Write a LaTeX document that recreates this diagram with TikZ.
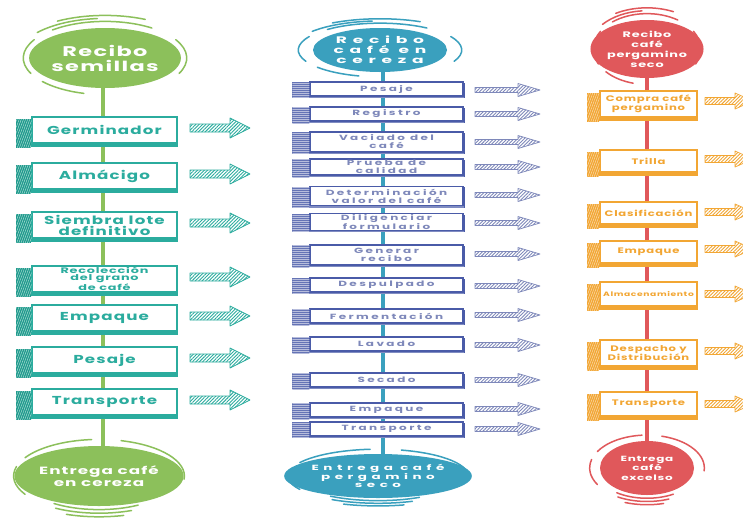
\documentclass[tikz,border=0pt]{standalone}
\usepackage{fontspec}
\usetikzlibrary{shapes.geometric,calc,patterns.meta}
\newfontfamily\fL[FakeStretch=1.45,LetterSpace=10]{Poppins}
\newfontfamily\fC[FakeStretch=1.6,LetterSpace=10]{Poppins}
\newfontfamily\fM[FakeStretch=1.6,LetterSpace=32]{Poppins}
\newfontfamily\fMC[FakeStretch=1.8,LetterSpace=60]{Poppins}
\definecolor{cgreen}{HTML}{8CC05B}
\definecolor{cteal}{HTML}{2BAC9E}
\definecolor{ctealdk}{HTML}{1F9A8C}
\definecolor{cblue}{HTML}{3AA0BE}
\definecolor{cind}{HTML}{4A5BA8}
\definecolor{cindt}{HTML}{7E88BA}
\definecolor{cred}{HTML}{E0585B}
\definecolor{corg}{HTML}{F2A633}
\tikzset{
  circ/.style={ellipse, inner sep=0pt, text=white, align=center},
  spine/.style={line width=3.4pt},
  deco/.style={line width=1.5pt, line cap=round},
  boxL/.style={rectangle, draw=cteal, line width=1.3pt, fill=white, minimum width=145pt,
     inner sep=1pt, text=cteal, font=\fL\bfseries\fontsize{11.5}{11}\selectfont, align=center},
  boxM/.style={rectangle, draw=cind, line width=1.1pt, fill=white, minimum width=153pt,
     inner sep=0.5pt, text=cindt, font=\fM\bfseries\fontsize{7.5}{8}\selectfont, align=center},
  boxR/.style={rectangle, draw=corg, line width=1.2pt, fill=white, minimum width=97pt,
     inner sep=1pt, text=corg, font=\fL\bfseries\fontsize{8}{9}\selectfont, align=center},
}
% box makers: name, x, y, options (height etc.), text
\newcommand\mkboxL[5]{%
  \node[boxL, minimum height=#4] (#1) at (#2,#3) {#5};
  \fill[ctealdk] ($(#1.north west)+(-15,3)$) rectangle ($(#1.south west)+(0,4)$);
  \fill[pattern={Lines[angle=70,distance=2pt,line width=0.4pt]}, pattern color=white!70!cteal]
     ($(#1.north west)+(-15,3)$) rectangle ($(#1.south west)+(0,4)$);
  \fill[cteal] (#1.south west) rectangle ($(#1.south east)+(0,3.5)$);}
\newcommand\mkboxM[5]{%
  \node[boxM, minimum height=#4] (#1) at (#2,#3) {#5};
  \fill[cind!85] ($(#1.north west)+(-17,1)$) rectangle ($(#1.south west)+(0,1.5)$);
  \fill[pattern={Lines[angle=0,distance=2pt,line width=0.3pt]}, pattern color=white!60!cind]
     ($(#1.north west)+(-17,1)$) rectangle ($(#1.south west)+(0,1.5)$);
  \fill[cind] ($(#1.north east)+(0,1.5)$) rectangle ($(#1.south east)+(1.8,1.5)$);
  \fill[cind!70] (#1.south west) rectangle ($(#1.south east)+(0,1.5)$);}
\newcommand\mkboxR[5]{%
  \node[boxR, minimum height=#4] (#1) at (#2,#3) {#5};
  \fill[corg] ($(#1.north west)+(-12,3)$) rectangle ($(#1.south west)+(0,4)$);
  \fill[pattern={Lines[angle=70,distance=2pt,line width=0.4pt]}, pattern color=white!70!corg]
     ($(#1.north west)+(-12,3)$) rectangle ($(#1.south west)+(0,4)$);
  \fill[corg] (#1.south west) rectangle ($(#1.south east)+(0,3.5)$);}
% hatched arrow: x1, x2, y, shaft half, head half, head length, colour
\newcommand\mkarrow[7]{%
  \draw[#7, line width=0.7pt, line join=round, pattern={Lines[angle=45,distance=2.4pt,line width=0.9pt]}, pattern color=#7]
    (#1,#3-#4) -- (#2-#6,#3-#4) -- (#2-#6,#3-#5) -- (#2,#3) -- (#2-#6,#3+#5)
    -- (#2-#6,#3+#4) -- (#1,#3+#4) -- cycle;}
% ring decorations around ellipse nodes
\newcommand\ringarc[6]{% name rx ry k start end
  \draw[deco] (#1.center) ++({#5}:{#2*#4} and {#3*#4})
    arc[start angle=#5, end angle=#6, x radius={#2*#4}, y radius={#3*#4}];}
\newcommand\decotop[4]{\begin{scope}[#4]
  \ringarc{#1}{#2}{#3}{1.22}{-205}{-150}
  \ringarc{#1}{#2}{#3}{1.22}{-130}{-55}
  \ringarc{#1}{#2}{#3}{1.22}{-30}{25}
  \ringarc{#1}{#2}{#3}{1.22}{-220}{-255}
  \ringarc{#1}{#2}{#3}{1.32}{-140}{-95}
  \ringarc{#1}{#2}{#3}{1.42}{-120}{-65}
\end{scope}}
\newcommand\decobot[4]{\begin{scope}[#4]
  \ringarc{#1}{#2}{#3}{1.22}{-165}{-210}
  \ringarc{#1}{#2}{#3}{1.22}{-150}{-95}
  \ringarc{#1}{#2}{#3}{1.22}{-75}{5}
  \ringarc{#1}{#2}{#3}{1.12}{-235}{-300}
  \ringarc{#1}{#2}{#3}{1.24}{-240}{-292}
  \ringarc{#1}{#2}{#3}{1.36}{-250}{-285}
\end{scope}}
\begin{document}
\begin{tikzpicture}[x=1pt,y=-1pt]
\clip (0,0) rectangle (743,517);
\fill[white] (0,0) rectangle (743,517);

% ---------------- left column ----------------
\node[circ, fill=cgreen, minimum width=134pt, minimum height=60pt,
  font=\fC\bfseries\fontsize{14}{15}\selectfont] (c1) at (105,58) {Recibo\\semillas};
\node[circ, fill=cgreen, minimum width=140pt, minimum height=60pt,
  font=\fC\bfseries\fontsize{10.5}{12}\selectfont] (e1) at (99,476) {Entrega café\\en cereza};
\decotop{c1}{67}{30}{cgreen}
\decobot{e1}{70}{30}{cgreen}
\draw[spine, cgreen] (c1.south -| 103,0) -- (e1.north -| 103,0);
\mkboxL{l1}{104.5}{130}{26pt}{Germinador}
\mkboxL{l2}{104.5}{176}{26pt}{Almácigo}
\mkboxL{l3}{104.5}{225}{26pt}{Siembra lote\\definitivo}
\mkboxL{l4}{104.5}{279}{26pt, font=\fC\bfseries\fontsize{8}{7}\selectfont}{Recolección\\del grano\\de café}
\mkboxL{l5}{104.5}{318}{26pt}{Empaque}
\mkboxL{l6}{104.5}{360}{26pt}{Pesaje}
\mkboxL{l7}{104.5}{402}{26pt}{Transporte}
\foreach \yy in {128,174,223,277,316,358,400}{\mkarrow{190}{250}{\yy}{4}{10}{20}{cteal}}

% ---------------- middle column ----------------
\node[circ, fill=cblue, minimum width=134pt, minimum height=44pt,
  font=\fMC\bfseries\fontsize{9.5}{10}\selectfont] (c2) at (380,50) {Recibo\\café en\\cereza};
\node[circ, fill=cblue, minimum width=148pt, minimum height=44pt,
  font=\fMC\bfseries\fontsize{7.5}{7.8}\selectfont] (e2) at (378,476) {Entrega café\\pergamino\\seco};
\decotop{c2}{67}{22}{cblue}
\decobot{e2}{74}{22}{cblue}
\draw[spine, cblue] (c2.south -| 383,0) -- (e2.north -| 383,0);
\mkboxM{m1}{386.5}{89}{14pt}{Pesaje}
\mkboxM{m2}{386.5}{114}{14pt}{Registro}
\mkboxM{m3}{386.5}{142}{20pt}{Vaciado del\\café}
\mkboxM{m4}{386.5}{167}{16pt}{Prueba de\\calidad}
\mkboxM{m5}{386.5}{196}{19pt}{Determinación\\valor del café}
\mkboxM{m6}{386.5}{222}{15pt}{Diligenciar\\formulario}
\mkboxM{m7}{386.5}{255}{20pt}{Generar\\recibo}
\mkboxM{m8}{386.5}{285}{14pt}{Despulpado}
\mkboxM{m9}{386.5}{316}{14pt}{Fermentación}
\mkboxM{m10}{386.5}{344}{14pt}{Lavado}
\mkboxM{m11}{386.5}{380}{14pt}{Secado}
\mkboxM{m12}{386.5}{410}{14pt}{Empaque}
\mkboxM{m13}{386.5}{429}{14pt}{Transporte}
\foreach \yy in {90,114,142,167,195,223,254,286,315,345,380,409,429}{\mkarrow{475}{540}{\yy}{2.5}{6.5}{22}{cindt}}

% ---------------- right column ----------------
\node[circ, fill=cred, minimum width=88pt, minimum height=58pt,
  font=\fC\bfseries\fontsize{8}{10}\selectfont] (c3) at (647,49) {Recibo\\café\\pergamino\\seco};
\node[circ, fill=cred, minimum width=94pt, minimum height=54pt,
  font=\fC\bfseries\fontsize{7.5}{9.5}\selectfont] (e3) at (647,468) {Entrega\\café\\excelso};
\decotop{c3}{44}{29}{cred}
\decobot{e3}{47}{27}{cred}
\draw[spine, cred] (c3.south) -- (e3.north);
\mkboxR{r1}{648.5}{104}{26pt}{Compra café\\pergamino}
\mkboxR{r2}{648.5}{161}{22pt}{Trilla}
\mkboxR{r3}{648.5}{213}{22pt}{Clasificación}
\mkboxR{r4}{648.5}{252}{22pt}{Empaque}
\mkboxR{r5}{648.5}{294}{24pt, font=\fL\bfseries\fontsize{6.3}{8}\selectfont}{Almacenamiento}
\mkboxR{r6}{648.5}{353}{26pt}{Despacho y\\Distribución}
\mkboxR{r7}{648.5}{404}{24pt}{Transporte}
\foreach \yy in {101,159,212,249,294,351,404}{\mkarrow{705}{753}{\yy}{3.5}{8}{18}{corg}}
\end{tikzpicture}
\end{document}
